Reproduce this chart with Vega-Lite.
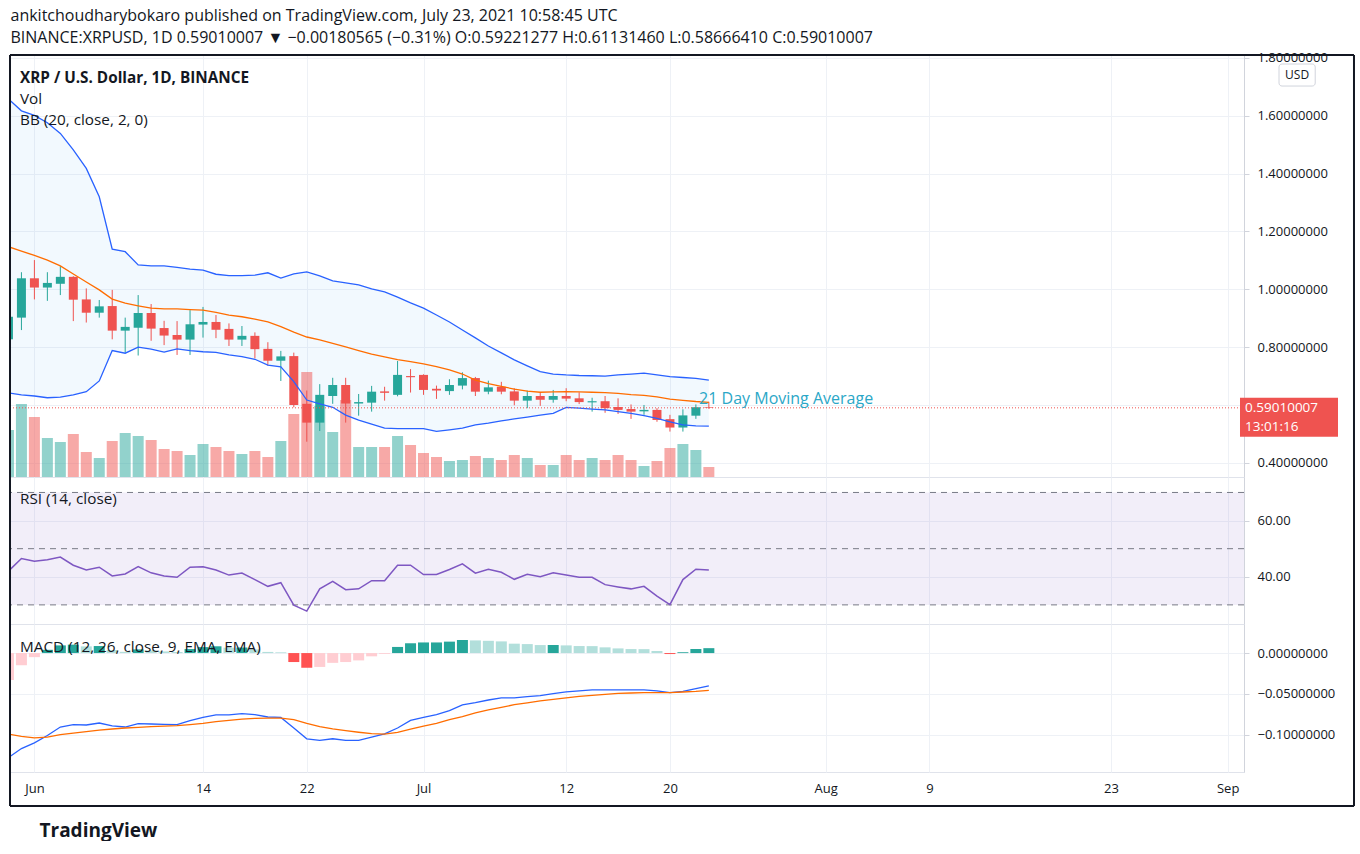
{
"$schema": "https://vega.github.io/schema/vega-lite/v6.json",
"padding": {"left": 8, "top": 8, "right": 0, "bottom": 0},
"background": "white",
"title": {"text": "ankitchoudharybokaro published on TradingView.com, July 23, 2021 10:58:45 UTC", "subtitle": "BINANCE:XRPUSD, 1D  0.59010007 ▼ −0.00180565 (−0.31%)  O:0.59221277  H:0.61131460  L:0.58666410  C:0.59010007", "anchor": "start", "frame": "bounds", "dx": 2, "fontSize": 16, "fontWeight": "normal", "subtitleFontSize": 16, "subtitlePadding": 6, "offset": 5, "color": "#131722", "subtitleColor": "#131722", "font": "Open Sans", "subtitleFont": "Open Sans"},
"data": {"values": [
{"d":"2021-05-30","o":0.827,"h":0.92,"l":0.80,"c":0.905,"v":1410,"bu":1.658,"bm":1.147,"bl":0.642,"rsi":42.0,"macd":-0.128,"sig":-0.0992,"hist":-0.033,"hc":"growBelow"},
{"d":"2021-05-31","o":0.902,"h":1.059,"l":0.859,"c":1.038,"v":2190,"bu":1.617,"bm":1.132,"bl":0.635,"rsi":46.5,"macd":-0.117,"sig":-0.102,"hist":-0.015,"hc":"growBelow"},
{"d":"2021-06-01","o":1.038,"h":1.101,"l":0.965,"c":1.006,"v":1800,"bu":1.601,"bm":1.117,"bl":0.631,"rsi":45.5,"macd":-0.110,"sig":-0.104,"hist":-0.005,"hc":"growBelow"},
{"d":"2021-06-02","o":1.006,"h":1.059,"l":0.960,"c":1.022,"v":1170,"bu":1.576,"bm":1.101,"bl":0.625,"rsi":46.1,"macd":-0.101,"sig":-0.103,"hist":0.004,"hc":"growAbove"},
{"d":"2021-06-03","o":1.019,"h":1.080,"l":0.980,"c":1.043,"v":1050,"bu":1.539,"bm":1.081,"bl":0.627,"rsi":47.0,"macd":-0.0906,"sig":-0.100,"hist":0.0094,"hc":"growAbove"},
{"d":"2021-06-04","o":1.043,"h":1.045,"l":0.890,"c":0.964,"v":1290,"bu":1.482,"bm":1.053,"bl":0.635,"rsi":44.1,"macd":-0.0877,"sig":-0.098,"hist":0.0103,"hc":"growAbove"},
{"d":"2021-06-05","o":0.965,"h":1.003,"l":0.885,"c":0.919,"v":750,"bu":1.418,"bm":1.025,"bl":0.646,"rsi":42.4,"macd":-0.0881,"sig":-0.0963,"hist":0.0082,"hc":"fallAbove"},
{"d":"2021-06-06","o":0.919,"h":0.963,"l":0.902,"c":0.941,"v":570,"bu":1.320,"bm":0.998,"bl":0.683,"rsi":43.4,"macd":-0.0857,"sig":-0.0943,"hist":0.0086,"hc":"growAbove"},
{"d":"2021-06-07","o":0.942,"h":0.998,"l":0.827,"c":0.857,"v":1080,"bu":1.139,"bm":0.966,"bl":0.788,"rsi":40.3,"macd":-0.0893,"sig":-0.093,"hist":0.0037,"hc":"fallAbove"},
{"d":"2021-06-08","o":0.857,"h":0.902,"l":0.781,"c":0.870,"v":1320,"bu":1.130,"bm":0.952,"bl":0.779,"rsi":41.0,"macd":-0.0906,"sig":-0.0918,"hist":0.0015,"hc":"fallAbove"},
{"d":"2021-06-09","o":0.867,"h":0.980,"l":0.771,"c":0.918,"v":1230,"bu":1.084,"bm":0.943,"bl":0.800,"rsi":43.6,"macd":-0.0865,"sig":-0.091,"hist":0.0045,"hc":"growAbove"},
{"d":"2021-06-10","o":0.918,"h":0.949,"l":0.822,"c":0.864,"v":1110,"bu":1.081,"bm":0.935,"bl":0.793,"rsi":41.4,"macd":-0.0869,"sig":-0.0902,"hist":0.0033,"hc":"fallAbove"},
{"d":"2021-06-11","o":0.866,"h":0.891,"l":0.807,"c":0.840,"v":840,"bu":1.081,"bm":0.932,"bl":0.783,"rsi":40.3,"macd":-0.0874,"sig":-0.0894,"hist":0.002,"hc":"fallAbove"},
{"d":"2021-06-12","o":0.842,"h":0.890,"l":0.773,"c":0.826,"v":780,"bu":1.076,"bm":0.932,"bl":0.794,"rsi":39.8,"macd":-0.0877,"sig":-0.089,"hist":0.0013,"hc":"fallAbove"},
{"d":"2021-06-13","o":0.826,"h":0.928,"l":0.773,"c":0.879,"v":660,"bu":1.070,"bm":0.930,"bl":0.788,"rsi":43.4,"macd":-0.0828,"sig":-0.0877,"hist":0.0049,"hc":"growAbove"},
{"d":"2021-06-14","o":0.878,"h":0.939,"l":0.833,"c":0.887,"v":990,"bu":1.066,"bm":0.928,"bl":0.784,"rsi":43.6,"macd":-0.0788,"sig":-0.0861,"hist":0.0073,"hc":"growAbove"},
{"d":"2021-06-15","o":0.887,"h":0.911,"l":0.831,"c":0.860,"v":900,"bu":1.052,"bm":0.920,"bl":0.782,"rsi":42.4,"macd":-0.0758,"sig":-0.0841,"hist":0.0083,"hc":"growAbove"},
{"d":"2021-06-16","o":0.863,"h":0.882,"l":0.804,"c":0.826,"v":780,"bu":1.047,"bm":0.911,"bl":0.773,"rsi":40.6,"macd":-0.0758,"sig":-0.0824,"hist":0.0066,"hc":"fallAbove"},
{"d":"2021-06-17","o":0.826,"h":0.873,"l":0.804,"c":0.839,"v":690,"bu":1.047,"bm":0.905,"bl":0.767,"rsi":41.3,"macd":-0.0742,"sig":-0.081,"hist":0.0068,"hc":"growAbove"},
{"d":"2021-06-18","o":0.839,"h":0.851,"l":0.761,"c":0.793,"v":780,"bu":1.049,"bm":0.897,"bl":0.758,"rsi":39.0,"macd":-0.0755,"sig":-0.080,"hist":0.0045,"hc":"fallAbove"},
{"d":"2021-06-19","o":0.794,"h":0.817,"l":0.736,"c":0.753,"v":600,"bu":1.057,"bm":0.887,"bl":0.738,"rsi":36.6,"macd":-0.0783,"sig":-0.0797,"hist":0.0014,"hc":"fallAbove"},
{"d":"2021-06-20","o":0.753,"h":0.787,"l":0.683,"c":0.768,"v":1080,"bu":1.039,"bm":0.871,"bl":0.732,"rsi":37.9,"macd":-0.0788,"sig":-0.0797,"hist":0.0009,"hc":"fallAbove"},
{"d":"2021-06-21","o":0.769,"h":0.781,"l":0.592,"c":0.600,"v":1890,"bu":1.053,"bm":0.852,"bl":0.681,"rsi":29.9,"macd":-0.0918,"sig":-0.0816,"hist":-0.011,"hc":"fallBelow"},
{"d":"2021-06-22","o":0.604,"h":0.650,"l":0.473,"c":0.539,"v":3150,"bu":1.060,"bm":0.835,"bl":0.617,"rsi":27.8,"macd":-0.105,"sig":-0.0861,"hist":-0.018,"hc":"fallBelow"},
{"d":"2021-06-23","o":0.539,"h":0.672,"l":0.510,"c":0.635,"v":2130,"bu":1.046,"bm":0.825,"bl":0.604,"rsi":35.7,"macd":-0.107,"sig":-0.090,"hist":-0.017,"hc":"growBelow"},
{"d":"2021-06-24","o":0.631,"h":0.694,"l":0.604,"c":0.669,"v":1350,"bu":1.029,"bm":0.813,"bl":0.592,"rsi":38.4,"macd":-0.105,"sig":-0.093,"hist":-0.012,"hc":"growBelow"},
{"d":"2021-06-25","o":0.669,"h":0.694,"l":0.539,"c":0.605,"v":2310,"bu":1.022,"bm":0.801,"bl":0.565,"rsi":35.4,"macd":-0.107,"sig":-0.095,"hist":-0.011,"hc":"growBelow"},
{"d":"2021-06-26","o":0.605,"h":0.638,"l":0.563,"c":0.610,"v":900,"bu":1.015,"bm":0.788,"bl":0.548,"rsi":35.7,"macd":-0.107,"sig":-0.097,"hist":-0.009,"hc":"growBelow"},
{"d":"2021-06-27","o":0.608,"h":0.666,"l":0.577,"c":0.646,"v":900,"bu":1.001,"bm":0.776,"bl":0.534,"rsi":38.6,"macd":-0.103,"sig":-0.0988,"hist":-0.004,"hc":"growBelow"},
{"d":"2021-06-28","o":0.647,"h":0.663,"l":0.615,"c":0.642,"v":900,"bu":0.991,"bm":0.766,"bl":0.520,"rsi":38.6,"macd":-0.099,"sig":-0.0992,"hist":-0.001,"hc":"growBelow"},
{"d":"2021-06-29","o":0.635,"h":0.752,"l":0.630,"c":0.704,"v":1230,"bu":0.973,"bm":0.757,"bl":0.518,"rsi":44.1,"macd":-0.0918,"sig":-0.0972,"hist":0.0075,"hc":"growAbove"},
{"d":"2021-06-30","o":0.700,"h":0.724,"l":0.643,"c":0.696,"v":960,"bu":0.953,"bm":0.750,"bl":0.518,"rsi":44.1,"macd":-0.0825,"sig":-0.0931,"hist":0.012,"hc":"growAbove"},
{"d":"2021-07-01","o":0.704,"h":0.706,"l":0.635,"c":0.652,"v":720,"bu":0.935,"bm":0.742,"bl":0.518,"rsi":40.8,"macd":-0.0788,"sig":-0.0894,"hist":0.013,"hc":"growAbove"},
{"d":"2021-07-02","o":0.656,"h":0.667,"l":0.621,"c":0.650,"v":600,"bu":0.911,"bm":0.733,"bl":0.509,"rsi":40.8,"macd":-0.0755,"sig":-0.0861,"hist":0.013,"hc":"growAbove"},
{"d":"2021-07-03","o":0.648,"h":0.689,"l":0.635,"c":0.669,"v":480,"bu":0.887,"bm":0.721,"bl":0.514,"rsi":42.6,"macd":-0.0706,"sig":-0.0816,"hist":0.014,"hc":"growAbove"},
{"d":"2021-07-04","o":0.667,"h":0.713,"l":0.654,"c":0.693,"v":510,"bu":0.859,"bm":0.707,"bl":0.520,"rsi":44.6,"macd":-0.0636,"sig":-0.078,"hist":0.016,"hc":"growAbove"},
{"d":"2021-07-05","o":0.693,"h":0.697,"l":0.631,"c":0.646,"v":630,"bu":0.832,"bm":0.686,"bl":0.531,"rsi":41.3,"macd":-0.0608,"sig":-0.0734,"hist":0.0155,"hc":"fallAbove"},
{"d":"2021-07-06","o":0.646,"h":0.684,"l":0.637,"c":0.661,"v":570,"bu":0.804,"bm":0.674,"bl":0.537,"rsi":42.7,"macd":-0.0575,"sig":-0.0697,"hist":0.015,"hc":"fallAbove"},
{"d":"2021-07-07","o":0.663,"h":0.680,"l":0.637,"c":0.646,"v":510,"bu":0.780,"bm":0.664,"bl":0.545,"rsi":41.6,"macd":-0.055,"sig":-0.0665,"hist":0.0143,"hc":"fallAbove"},
{"d":"2021-07-08","o":0.647,"h":0.658,"l":0.599,"c":0.615,"v":660,"bu":0.756,"bm":0.655,"bl":0.552,"rsi":39.1,"macd":-0.055,"sig":-0.0632,"hist":0.0115,"hc":"fallAbove"},
{"d":"2021-07-09","o":0.615,"h":0.650,"l":0.589,"c":0.631,"v":570,"bu":0.735,"bm":0.648,"bl":0.558,"rsi":40.9,"macd":-0.0534,"sig":-0.0611,"hist":0.011,"hc":"fallAbove"},
{"d":"2021-07-10","o":0.631,"h":0.645,"l":0.597,"c":0.618,"v":360,"bu":0.715,"bm":0.644,"bl":0.565,"rsi":40.0,"macd":-0.0522,"sig":-0.0587,"hist":0.0098,"hc":"fallAbove"},
{"d":"2021-07-11","o":0.618,"h":0.652,"l":0.608,"c":0.631,"v":360,"bu":0.707,"bm":0.645,"bl":0.571,"rsi":41.4,"macd":-0.0497,"sig":-0.0567,"hist":0.0099,"hc":"growAbove"},
{"d":"2021-07-12","o":0.631,"h":0.658,"l":0.613,"c":0.622,"v":660,"bu":0.704,"bm":0.646,"bl":0.592,"rsi":40.6,"macd":-0.0476,"sig":-0.055,"hist":0.0094,"hc":"fallAbove"},
{"d":"2021-07-13","o":0.623,"h":0.644,"l":0.603,"c":0.610,"v":510,"bu":0.702,"bm":0.645,"bl":0.589,"rsi":39.8,"macd":-0.0464,"sig":-0.053,"hist":0.0086,"hc":"fallAbove"},
{"d":"2021-07-14","o":0.609,"h":0.625,"l":0.577,"c":0.613,"v":570,"bu":0.701,"bm":0.644,"bl":0.586,"rsi":39.8,"macd":-0.0452,"sig":-0.0518,"hist":0.0085,"hc":"fallAbove"},
{"d":"2021-07-15","o":0.613,"h":0.631,"l":0.573,"c":0.589,"v":510,"bu":0.700,"bm":0.643,"bl":0.583,"rsi":37.2,"macd":-0.0452,"sig":-0.0506,"hist":0.007,"hc":"fallAbove"},
{"d":"2021-07-16","o":0.593,"h":0.623,"l":0.569,"c":0.583,"v":660,"bu":0.704,"bm":0.640,"bl":0.577,"rsi":36.4,"macd":-0.0452,"sig":-0.0493,"hist":0.0057,"hc":"fallAbove"},
{"d":"2021-07-17","o":0.586,"h":0.602,"l":0.552,"c":0.577,"v":510,"bu":0.707,"bm":0.636,"bl":0.571,"rsi":35.7,"macd":-0.0452,"sig":-0.0489,"hist":0.0049,"hc":"fallAbove"},
{"d":"2021-07-18","o":0.578,"h":0.600,"l":0.566,"c":0.583,"v":330,"bu":0.710,"bm":0.633,"bl":0.563,"rsi":36.6,"macd":-0.045,"sig":-0.0485,"hist":0.0048,"hc":"fallAbove"},
{"d":"2021-07-19","o":0.583,"h":0.589,"l":0.542,"c":0.548,"v":480,"bu":0.704,"bm":0.628,"bl":0.554,"rsi":33.1,"macd":-0.0462,"sig":-0.0485,"hist":0.0025,"hc":"fallAbove"},
{"d":"2021-07-20","o":0.551,"h":0.566,"l":0.508,"c":0.522,"v":870,"bu":0.698,"bm":0.620,"bl":0.542,"rsi":30.1,"macd":-0.0485,"sig":-0.0485,"hist":-0.0012,"hc":"fallBelow"},
{"d":"2021-07-21","o":0.522,"h":0.585,"l":0.508,"c":0.564,"v":990,"bu":0.695,"bm":0.616,"bl":0.531,"rsi":39.0,"macd":-0.0469,"sig":-0.0477,"hist":0.001,"hc":"growAbove"},
{"d":"2021-07-22","o":0.563,"h":0.602,"l":0.552,"c":0.5922,"v":810,"bu":0.692,"bm":0.612,"bl":0.528,"rsi":42.7,"macd":-0.0436,"sig":-0.0469,"hist":0.005,"hc":"growAbove"},
{"d":"2021-07-23","o":0.59221277,"h":0.6113146,"l":0.5866641,"c":0.59010007,"v":300,"bu":0.686,"bm":0.609,"bl":0.527,"rsi":42.4,"macd":-0.0403,"sig":-0.0456,"hist":0.006,"hc":"growAbove"}
]},
"spacing": 0,
"bounds": "flush",
"vconcat": [
{
 "width": 1234, "height": 422,
 "title": {"text": "XRP / U.S. Dollar, 1D, BINANCE", "subtitle": ["Vol", "BB (20, close, 2, 0)"], "anchor": "start", "frame": "group", "dx": 10, "offset": -76, "fontSize": 15.3, "fontWeight": "bold", "subtitleFontSize": 15.3, "subtitleLineHeight": 21, "subtitlePadding": 5, "color": "#131722", "subtitleColor": "#131722"},
 "layer": [
  {"mark": {"type": "area", "color": "#2196f3", "opacity": 0.06, "clip": true},
   "encoding": {
    "x": {"field": "d", "type": "temporal", "scale": {"type": "utc", "domain": [{"year":2021,"month":5,"date":30,"hours":2,"minutes":51,"utc":true},{"year":2021,"month":9,"date":2,"hours":6,"minutes":14,"utc":true}]},
          "axis": {"values": [{"year":2021,"month":6,"date":1,"utc":true},{"year":2021,"month":6,"date":14,"utc":true},{"year":2021,"month":6,"date":22,"utc":true},{"year":2021,"month":7,"date":1,"utc":true},{"year":2021,"month":7,"date":12,"utc":true},{"year":2021,"month":7,"date":20,"utc":true},{"year":2021,"month":8,"date":1,"utc":true},{"year":2021,"month":8,"date":9,"utc":true},{"year":2021,"month":8,"date":23,"utc":true},{"year":2021,"month":9,"date":1,"utc":true}], "labels": false, "ticks": false, "domain": false, "grid": true, "title": null}},
    "y": {"field": "bu", "type": "quantitative", "scale": {"domain": [0.351, 1.81], "nice": false, "zero": false},
          "axis": {"orient": "right", "values": [0.4, 0.6, 0.8, 1.0, 1.2, 1.4, 1.6, 1.8], "format": ".8f", "labelExpr": "datum.value == 0.6 ? '' : datum.label", "grid": true, "tickSize": 5, "labelPadding": 8, "title": null}},
    "y2": {"field": "bl"}
   }},
  {"mark": {"type": "bar", "size": 11, "opacity": 0.5, "clip": true},
   "encoding": {
    "x": {"field": "d", "type": "temporal", "scale": {"type": "utc", "domain": [{"year":2021,"month":5,"date":30,"hours":2,"minutes":51,"utc":true},{"year":2021,"month":9,"date":2,"hours":6,"minutes":14,"utc":true}]}},
    "y": {"field": "v", "type": "quantitative", "scale": {"domain": [0, 12660], "nice": false}, "axis": null},
    "color": {"condition": {"test": "datum.c >= datum.o", "value": "#26a69a"}, "value": "#ef5350"}
   }},
  {"layer": [
    {"mark": {"type": "rule", "strokeWidth": 1, "clip": true},
     "encoding": {
      "x": {"field": "d", "type": "temporal", "scale": {"type": "utc", "domain": [{"year":2021,"month":5,"date":30,"hours":2,"minutes":51,"utc":true},{"year":2021,"month":9,"date":2,"hours":6,"minutes":14,"utc":true}]}},
      "y": {"field": "l", "type": "quantitative", "scale": {"domain": [0.351, 1.81], "nice": false, "zero": false}, "axis": null},
      "y2": {"field": "h"},
      "color": {"condition": {"test": "datum.c >= datum.o", "value": "#26a69a"}, "value": "#ef5350"}
     }},
    {"mark": {"type": "bar", "size": 9, "clip": true},
     "encoding": {
      "x": {"field": "d", "type": "temporal", "scale": {"type": "utc", "domain": [{"year":2021,"month":5,"date":30,"hours":2,"minutes":51,"utc":true},{"year":2021,"month":9,"date":2,"hours":6,"minutes":14,"utc":true}]}},
      "y": {"field": "o", "type": "quantitative", "scale": {"domain": [0.351, 1.81], "nice": false, "zero": false}, "axis": null},
      "y2": {"field": "c"},
      "color": {"condition": {"test": "datum.c >= datum.o", "value": "#26a69a"}, "value": "#ef5350"}
     }},
    {"mark": {"type": "line", "color": "#2962ff", "strokeWidth": 1.3, "clip": true},
     "encoding": {
      "x": {"field": "d", "type": "temporal", "scale": {"type": "utc", "domain": [{"year":2021,"month":5,"date":30,"hours":2,"minutes":51,"utc":true},{"year":2021,"month":9,"date":2,"hours":6,"minutes":14,"utc":true}]}},
      "y": {"field": "bu", "type": "quantitative", "scale": {"domain": [0.351, 1.81], "nice": false, "zero": false}, "axis": null}
     }},
    {"mark": {"type": "line", "color": "#2962ff", "strokeWidth": 1.3, "clip": true},
     "encoding": {
      "x": {"field": "d", "type": "temporal", "scale": {"type": "utc", "domain": [{"year":2021,"month":5,"date":30,"hours":2,"minutes":51,"utc":true},{"year":2021,"month":9,"date":2,"hours":6,"minutes":14,"utc":true}]}},
      "y": {"field": "bl", "type": "quantitative", "scale": {"domain": [0.351, 1.81], "nice": false, "zero": false}, "axis": null}
     }},
    {"mark": {"type": "line", "color": "#ff6d00", "strokeWidth": 1.3, "clip": true},
     "encoding": {
      "x": {"field": "d", "type": "temporal", "scale": {"type": "utc", "domain": [{"year":2021,"month":5,"date":30,"hours":2,"minutes":51,"utc":true},{"year":2021,"month":9,"date":2,"hours":6,"minutes":14,"utc":true}]}},
      "y": {"field": "bm", "type": "quantitative", "scale": {"domain": [0.351, 1.81], "nice": false, "zero": false}, "axis": null}
     }},
    {"data": {"values": [{"last": 0.59010007, "countdown": "13:01:16", "note": "21 Day Moving Average", "unit": "USD"}]},
     "layer": [
      {"mark": {"type": "rule", "color": "#ef5350", "strokeDash": [1, 2], "strokeWidth": 1},
       "encoding": {"y": {"field": "last", "type": "quantitative", "scale": {"domain": [0.351, 1.81], "nice": false, "zero": false}, "axis": null}}},
      {"mark": {"type": "text", "align": "left", "baseline": "middle", "fontSize": 16, "color": "#2ba7c7", "clip": false},
       "encoding": {
        "x": {"datum": {"year":2021,"month":7,"date":22,"hours":6,"utc":true}, "type": "temporal", "scale": {"type": "utc", "domain": [{"year":2021,"month":5,"date":30,"hours":2,"minutes":51,"utc":true},{"year":2021,"month":9,"date":2,"hours":6,"minutes":14,"utc":true}]}},
        "y": {"datum": 0.621, "type": "quantitative", "scale": {"domain": [0.351, 1.81], "nice": false, "zero": false}, "axis": null},
        "text": {"field": "note"}
       }},
      {"mark": {"type": "tick", "orient": "horizontal", "thickness": 39, "size": 98, "color": "#ef5350", "opacity": 1, "yOffset": 9.5, "clip": false},
       "encoding": {
        "x": {"datum": {"year":2021,"month":9,"date":5,"hours":17,"minutes":30,"utc":true}, "type": "temporal", "scale": {"type": "utc", "domain": [{"year":2021,"month":5,"date":30,"hours":2,"minutes":51,"utc":true},{"year":2021,"month":9,"date":2,"hours":6,"minutes":14,"utc":true}]}},
        "y": {"field": "last", "type": "quantitative", "scale": {"domain": [0.351, 1.81], "nice": false, "zero": false}, "axis": null}
       }},
      {"mark": {"type": "text", "align": "left", "baseline": "middle", "fontSize": 13.5, "color": "white", "clip": false},
       "encoding": {
        "x": {"datum": {"year":2021,"month":9,"date":2,"hours":8,"minutes":10,"utc":true}, "type": "temporal", "scale": {"type": "utc", "domain": [{"year":2021,"month":5,"date":30,"hours":2,"minutes":51,"utc":true},{"year":2021,"month":9,"date":2,"hours":6,"minutes":14,"utc":true}]}},
        "y": {"field": "last", "type": "quantitative", "scale": {"domain": [0.351, 1.81], "nice": false, "zero": false}, "axis": null},
        "text": {"field": "last", "type": "quantitative", "format": ".8f"}
       }},
      {"mark": {"type": "text", "align": "left", "baseline": "middle", "fontSize": 13.5, "color": "white", "dy": 19, "clip": false},
       "encoding": {
        "x": {"datum": {"year":2021,"month":9,"date":2,"hours":8,"minutes":10,"utc":true}, "type": "temporal", "scale": {"type": "utc", "domain": [{"year":2021,"month":5,"date":30,"hours":2,"minutes":51,"utc":true},{"year":2021,"month":9,"date":2,"hours":6,"minutes":14,"utc":true}]}},
        "y": {"field": "last", "type": "quantitative", "scale": {"domain": [0.351, 1.81], "nice": false, "zero": false}, "axis": null},
        "text": {"field": "countdown"}
       }},
      {"mark": {"type": "rect", "fill": "white", "stroke": "#d1d4dc", "strokeWidth": 1, "cornerRadius": 3, "clip": false},
       "encoding": {
        "x": {"datum": {"year":2021,"month":9,"date":4,"hours":23,"utc":true}, "type": "temporal", "scale": {"type": "utc", "domain": [{"year":2021,"month":5,"date":30,"hours":2,"minutes":51,"utc":true},{"year":2021,"month":9,"date":2,"hours":6,"minutes":14,"utc":true}]}},
        "x2": {"datum": {"year":2021,"month":9,"date":7,"hours":18,"utc":true}},
        "y": {"datum": 1.7788, "type": "quantitative", "scale": {"domain": [0.351, 1.81], "nice": false, "zero": false}, "axis": null},
        "y2": {"datum": 1.7027}
       }},
      {"mark": {"type": "text", "align": "center", "baseline": "middle", "fontSize": 12, "color": "#131722", "clip": false},
       "encoding": {
        "x": {"datum": {"year":2021,"month":9,"date":6,"hours":8,"minutes":30,"utc":true}, "type": "temporal", "scale": {"type": "utc", "domain": [{"year":2021,"month":5,"date":30,"hours":2,"minutes":51,"utc":true},{"year":2021,"month":9,"date":2,"hours":6,"minutes":14,"utc":true}]}},
        "y": {"datum": 1.7407, "type": "quantitative", "scale": {"domain": [0.351, 1.81], "nice": false, "zero": false}, "axis": null},
        "text": {"field": "unit"}
       }},
      {"mark": {"type": "rule", "color": "#131722", "strokeWidth": 2, "clip": false},
       "encoding": {"x": {"datum": {"year":2021,"month":5,"date":30,"hours":2,"minutes":51,"utc":true}, "type": "temporal", "scale": {"type": "utc", "domain": [{"year":2021,"month":5,"date":30,"hours":2,"minutes":51,"utc":true},{"year":2021,"month":9,"date":2,"hours":6,"minutes":14,"utc":true}]}}}},
      {"mark": {"type": "rule", "color": "#131722", "strokeWidth": 2, "clip": false},
       "encoding": {"x": {"datum": {"year":2021,"month":9,"date":10,"hours":17,"minutes":45,"utc":true}, "type": "temporal", "scale": {"type": "utc", "domain": [{"year":2021,"month":5,"date":30,"hours":2,"minutes":51,"utc":true},{"year":2021,"month":9,"date":2,"hours":6,"minutes":14,"utc":true}]}}}},
      {"mark": {"type": "rule", "color": "#131722", "strokeWidth": 2, "clip": false},
       "encoding": {
        "x": {"datum": {"year":2021,"month":5,"date":30,"hours":2,"minutes":51,"utc":true}, "type": "temporal", "scale": {"type": "utc", "domain": [{"year":2021,"month":5,"date":30,"hours":2,"minutes":51,"utc":true},{"year":2021,"month":9,"date":2,"hours":6,"minutes":14,"utc":true}]}},
        "x2": {"datum": {"year":2021,"month":9,"date":10,"hours":17,"minutes":45,"utc":true}},
        "y": {"datum": 1.81, "type": "quantitative", "scale": {"domain": [0.351, 1.81], "nice": false, "zero": false}, "axis": null}
       }}
     ]}
  ]}
 ],
 "resolve": {"scale": {"y": "independent"}}
},
{
 "width": 1234, "height": 147,
 "title": {"text": "RSI (14, close)", "anchor": "start", "frame": "group", "dx": 10, "offset": -31, "fontSize": 15.3, "fontWeight": "normal", "color": "#131722"},
 "layer": [
  {"data": {"values": [{"hi": 70, "lo": 30}]},
   "mark": {"type": "rect", "color": "#7e57c2", "opacity": 0.1},
   "encoding": {
    "y": {"field": "hi", "type": "quantitative", "scale": {"domain": [23.2, 75.5], "nice": false, "zero": false},
          "axis": {"orient": "right", "values": [40, 60], "format": ".2f", "grid": true, "tickSize": 5, "labelPadding": 8, "title": null}},
    "y2": {"field": "lo"}
   }},
  {"data": {"values": [{"level": 70}, {"level": 50}, {"level": 30}]},
   "mark": {"type": "rule", "color": "#787b86", "strokeDash": [6, 5], "strokeWidth": 1},
   "encoding": {"y": {"field": "level", "type": "quantitative", "scale": {"domain": [23.2, 75.5], "nice": false, "zero": false}}}},
  {"mark": {"type": "line", "color": "#7e57c2", "strokeWidth": 1.5, "clip": true},
   "encoding": {
    "x": {"field": "d", "type": "temporal", "scale": {"type": "utc", "domain": [{"year":2021,"month":5,"date":30,"hours":2,"minutes":51,"utc":true},{"year":2021,"month":9,"date":2,"hours":6,"minutes":14,"utc":true}]},
          "axis": {"values": [{"year":2021,"month":6,"date":1,"utc":true},{"year":2021,"month":6,"date":14,"utc":true},{"year":2021,"month":6,"date":22,"utc":true},{"year":2021,"month":7,"date":1,"utc":true},{"year":2021,"month":7,"date":12,"utc":true},{"year":2021,"month":7,"date":20,"utc":true},{"year":2021,"month":8,"date":1,"utc":true},{"year":2021,"month":8,"date":9,"utc":true},{"year":2021,"month":8,"date":23,"utc":true},{"year":2021,"month":9,"date":1,"utc":true}], "labels": false, "ticks": false, "domain": false, "grid": true, "title": null}},
    "y": {"field": "rsi", "type": "quantitative", "scale": {"domain": [23.2, 75.5], "nice": false, "zero": false}}
   }},
  {"data": {"values": [{"frame": "left"}]},
   "mark": {"type": "rule", "color": "#131722", "strokeWidth": 2, "clip": false},
   "encoding": {"x": {"datum": {"year":2021,"month":5,"date":30,"hours":2,"minutes":51,"utc":true}, "type": "temporal", "scale": {"type": "utc", "domain": [{"year":2021,"month":5,"date":30,"hours":2,"minutes":51,"utc":true},{"year":2021,"month":9,"date":2,"hours":6,"minutes":14,"utc":true}]}}}},
  {"data": {"values": [{"frame": "right"}]},
   "mark": {"type": "rule", "color": "#131722", "strokeWidth": 2, "clip": false},
   "encoding": {"x": {"datum": {"year":2021,"month":9,"date":10,"hours":17,"minutes":45,"utc":true}, "type": "temporal", "scale": {"type": "utc", "domain": [{"year":2021,"month":5,"date":30,"hours":2,"minutes":51,"utc":true},{"year":2021,"month":9,"date":2,"hours":6,"minutes":14,"utc":true}]}}}}
 ]
},
{
 "width": 1234, "height": 148,
 "title": {"text": "MACD (12, 26, close, 9, EMA, EMA)", "anchor": "start", "frame": "group", "dx": 10, "offset": -32, "fontSize": 15.3, "fontWeight": "normal", "color": "#131722"},
 "layer": [
  {"mark": {"type": "bar", "size": 11, "clip": true},
   "encoding": {
    "x": {"field": "d", "type": "temporal", "scale": {"type": "utc", "domain": [{"year":2021,"month":5,"date":30,"hours":2,"minutes":51,"utc":true},{"year":2021,"month":9,"date":2,"hours":6,"minutes":14,"utc":true}]},
          "axis": {"values": [{"year":2021,"month":6,"date":1,"utc":true},{"year":2021,"month":6,"date":14,"utc":true},{"year":2021,"month":6,"date":22,"utc":true},{"year":2021,"month":7,"date":1,"utc":true},{"year":2021,"month":7,"date":12,"utc":true},{"year":2021,"month":7,"date":20,"utc":true},{"year":2021,"month":8,"date":1,"utc":true},{"year":2021,"month":8,"date":9,"utc":true},{"year":2021,"month":8,"date":23,"utc":true},{"year":2021,"month":9,"date":1,"utc":true}],
                   "labelExpr": "utcdate(datum.value) == 1 ? utcFormat(datum.value, '%b') : utcFormat(datum.value, '%-d')",
                   "grid": true, "ticks": false, "domain": false, "labelPadding": 10, "labelFlush": false,
                   "title": "TradingView", "titleFontSize": 19, "titleFontWeight": "bold", "titleAnchor": "start", "titleAlign": "left", "titleX": 29, "titleY": 58, "titleBaseline": "middle", "titleColor": "#131722"}},
    "y": {"field": "hist", "type": "quantitative", "scale": {"domain": [-0.1457, 0.0356], "nice": false, "zero": false},
          "axis": {"orient": "right", "values": [0, -0.05, -0.1], "format": ".8f", "grid": true, "tickSize": 5, "labelPadding": 8, "title": null}},
    "y2": {"datum": 0},
    "color": {"field": "hc", "type": "nominal", "scale": {"domain": ["growAbove", "fallAbove", "growBelow", "fallBelow"], "range": ["#26a69a", "#b2dfdb", "#ffcdd2", "#ff5252"]}, "legend": null}
   }},
  {"mark": {"type": "line", "color": "#2962ff", "strokeWidth": 1.3, "clip": true},
   "encoding": {
    "x": {"field": "d", "type": "temporal", "scale": {"type": "utc", "domain": [{"year":2021,"month":5,"date":30,"hours":2,"minutes":51,"utc":true},{"year":2021,"month":9,"date":2,"hours":6,"minutes":14,"utc":true}]}},
    "y": {"field": "macd", "type": "quantitative", "scale": {"domain": [-0.1457, 0.0356], "nice": false, "zero": false}}
   }},
  {"mark": {"type": "line", "color": "#ff6d00", "strokeWidth": 1.3, "clip": true},
   "encoding": {
    "x": {"field": "d", "type": "temporal", "scale": {"type": "utc", "domain": [{"year":2021,"month":5,"date":30,"hours":2,"minutes":51,"utc":true},{"year":2021,"month":9,"date":2,"hours":6,"minutes":14,"utc":true}]}},
    "y": {"field": "sig", "type": "quantitative", "scale": {"domain": [-0.1457, 0.0356], "nice": false, "zero": false}}
   }},
  {"data": {"values": [{"frame": "outline"}]},
   "layer": [
    {"mark": {"type": "rule", "color": "#131722", "strokeWidth": 2, "clip": false},
     "encoding": {
      "x": {"datum": {"year":2021,"month":5,"date":30,"hours":2,"minutes":51,"utc":true}, "type": "temporal", "scale": {"type": "utc", "domain": [{"year":2021,"month":5,"date":30,"hours":2,"minutes":51,"utc":true},{"year":2021,"month":9,"date":2,"hours":6,"minutes":14,"utc":true}]}},
      "y": {"datum": 0.0356, "type": "quantitative", "scale": {"domain": [-0.1457, 0.0356], "nice": false, "zero": false}},
      "y2": {"datum": -0.1874}
     }},
    {"mark": {"type": "rule", "color": "#131722", "strokeWidth": 2, "clip": false},
     "encoding": {
      "x": {"datum": {"year":2021,"month":9,"date":10,"hours":17,"minutes":45,"utc":true}, "type": "temporal", "scale": {"type": "utc", "domain": [{"year":2021,"month":5,"date":30,"hours":2,"minutes":51,"utc":true},{"year":2021,"month":9,"date":2,"hours":6,"minutes":14,"utc":true}]}},
      "y": {"datum": 0.0356, "type": "quantitative", "scale": {"domain": [-0.1457, 0.0356], "nice": false, "zero": false}},
      "y2": {"datum": -0.1874}
     }},
    {"mark": {"type": "rule", "color": "#131722", "strokeWidth": 2, "clip": false},
     "encoding": {
      "x": {"datum": {"year":2021,"month":5,"date":30,"hours":2,"minutes":51,"utc":true}, "type": "temporal", "scale": {"type": "utc", "domain": [{"year":2021,"month":5,"date":30,"hours":2,"minutes":51,"utc":true},{"year":2021,"month":9,"date":2,"hours":6,"minutes":14,"utc":true}]}},
      "x2": {"datum": {"year":2021,"month":9,"date":10,"hours":17,"minutes":45,"utc":true}},
      "y": {"datum": -0.1874, "type": "quantitative", "scale": {"domain": [-0.1457, 0.0356], "nice": false, "zero": false}}
     }}
   ]}
 ]
}
],
"config": {
 "font": "Open Sans",
 "scale": {"continuousPadding": 0},
 "view": {"stroke": "#e0e3eb", "strokeWidth": 1},
 "axis": {"labelFont": "Open Sans", "labelFontSize": 13, "labelColor": "#131722", "gridColor": "#eef1f6", "gridWidth": 1, "domainColor": "#d1d4dc", "tickColor": "#d1d4dc", "titleFont": "Open Sans"},
 "title": {"font": "Open Sans", "subtitleFont": "Open Sans", "color": "#131722", "subtitleColor": "#131722"}
}
}
